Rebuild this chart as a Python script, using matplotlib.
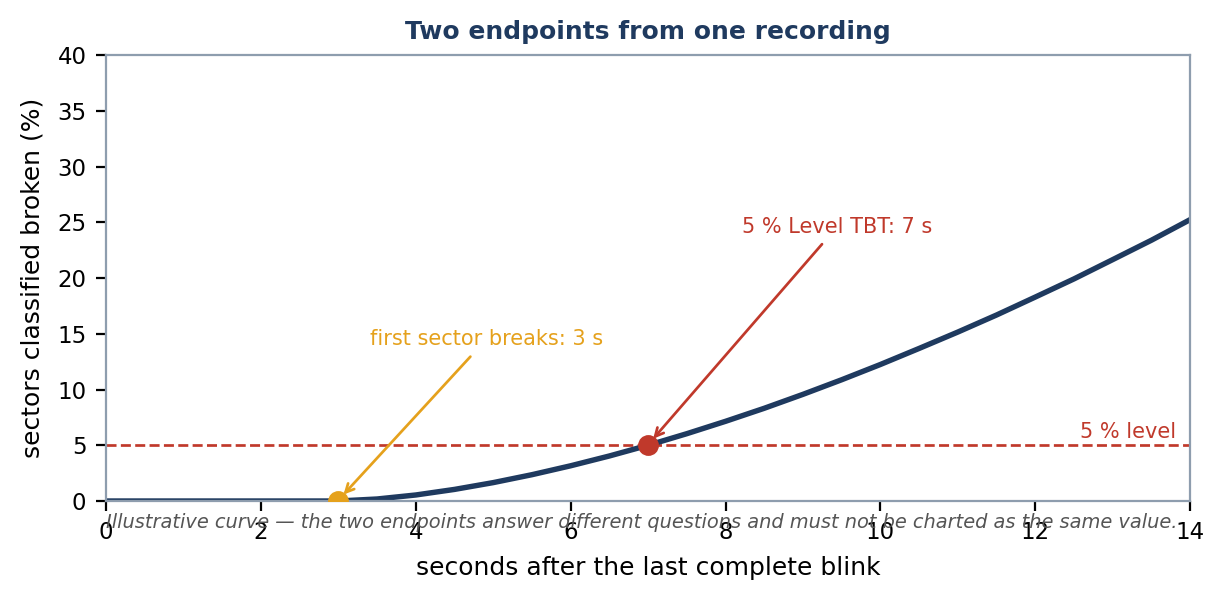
import numpy as np
import matplotlib.pyplot as plt

# readings (seconds, % broken)
seconds = [0, 0.5, 1, 1.5, 2, 2.5, 3, 3.5, 4, 4.5, 5, 5.5, 6, 6.5, 7,
           7.5, 8, 8.5, 9, 9.5, 10, 10.5, 11, 11.5, 12, 12.5, 13, 13.5, 14]
broken = [0, 0, 0, 0, 0, 0, 0, 0.18, 0.54, 1.04, 1.65, 2.36, 3.16, 4.04, 5.0,
          6.04, 7.15, 8.32, 9.57, 10.88, 12.25, 13.69, 15.16, 16.69, 18.3,
          19.93, 21.66, 23.4, 25.25]

level = 5
first_break = (3, 0)
tbt = (7, 5)

navy = "#1f3a5f"
red = "#c0392b"
orange = "#e5a11c"
spine_col = "#8e9dae"

fig = plt.figure(figsize=(8.18, 4), dpi=150)
ax = fig.add_axes([0.0864, 0.165, 0.8836, 0.743])

ax.plot(seconds, broken, color=navy, lw=2.6, zorder=2)
ax.axhline(level, color=red, ls="--", lw=1.3, zorder=1)
ax.plot(*tbt, "o", color=red, ms=9, zorder=4)
ax.plot(*first_break, "o", color=orange, ms=9, zorder=4)

ax.annotate("first sector breaks: 3 s", xy=(3.03, 0.3), xytext=(4.91, 14.5),
            ha="center", va="center", color=orange, fontsize=10,
            arrowprops=dict(arrowstyle="->", color=orange, lw=1.3))
ax.annotate("5 % Level TBT: 7 s", xy=(7.03, 5.3), xytext=(9.44, 24.6),
            ha="center", va="center", color=red, fontsize=10,
            arrowprops=dict(arrowstyle="->", color=red, lw=1.3))
ax.text(13.82, 5.25, "5 % level", ha="right", va="bottom", color=red, fontsize=10)

ax.set_xlim(0, 14)
ax.set_ylim(0, 40)
ax.set_xticks(range(0, 15, 2))
ax.set_yticks(range(0, 41, 5))
ax.tick_params(labelsize=11, length=4.7, width=1.07, pad=4.7)
for s in ax.spines.values():
    s.set_color(spine_col)
    s.set_linewidth(1.07)

ax.set_title("Two endpoints from one recording", fontsize=12, fontweight="bold",
             color=navy, pad=8)
ax.set_xlabel("seconds after the last complete blink", fontsize=12, labelpad=6)
ax.set_ylabel("sectors classified broken (%)", fontsize=12, labelpad=6)
ax.text(0, -0.049, "Illustrative curve — the two endpoints answer different questions "
        "and must not be charted as the same value.", transform=ax.transAxes,
        ha="left", va="center", fontsize=9.3, style="italic", color="#555555")

fig.savefig("out.png", dpi=150)
